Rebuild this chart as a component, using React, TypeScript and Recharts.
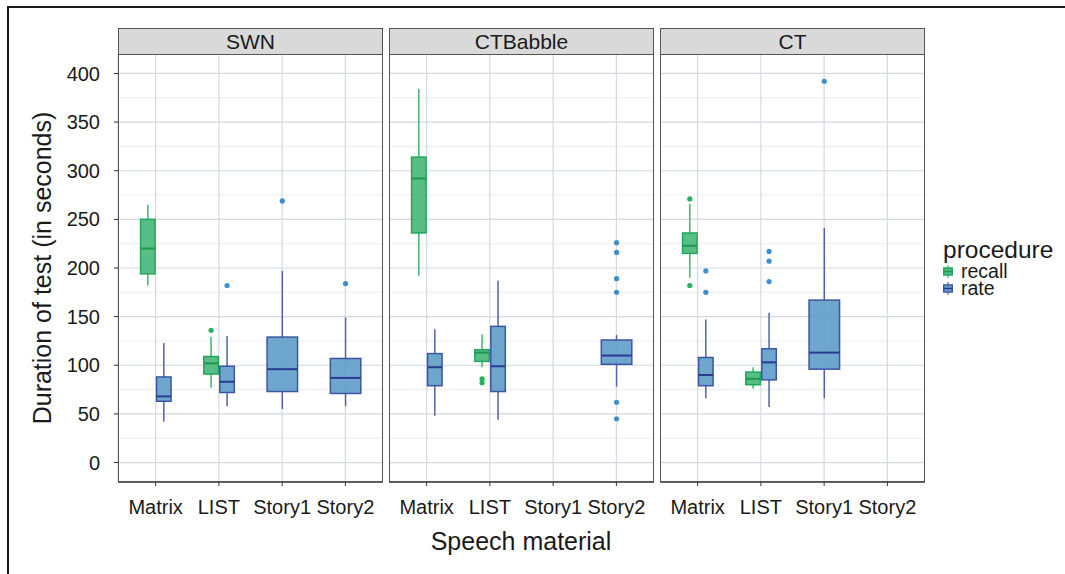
import React from 'react';
import { ComposedChart, Bar, XAxis, YAxis, CartesianGrid } from 'recharts';

const materials = ['Matrix', 'LIST', 'Story1', 'Story2'];
const facets = ['SWN', 'CTBabble', 'CT'];
const yTicks = [0, 50, 100, 150, 200, 250, 300, 350, 400];
const yMinor = [25, 75, 125, 175, 225, 275, 325, 375];

type Stats = number[] | null;

// box stats: [lower whisker, Q1, median, Q3, upper whisker]
const swnRecall: Stats[] = [[182, 194, 220, 250, 265], [77, 91, 102, 109, 129], null, null];
const swnRecallOut: number[][] = [[], [136], [], []];
const swnRate: Stats[] = [[42, 63, 68, 88, 123], [58, 72, 83, 99, 130], [55, 73, 96, 129, 197], [58, 71, 87, 107, 149]];
const swnRateOut: number[][] = [[], [182], [269], [184]];

const babbleRecall: Stats[] = [[192, 236, 292, 314, 384], [98, 104, 113, 116, 132], null, null];
const babbleRecallOut: number[][] = [[], [86, 82], [], []];
const babbleRate: Stats[] = [[48, 79, 98, 112, 137], [44, 73, 99, 140, 187], null, [78, 101, 110, 126, 131]];
const babbleRateOut: number[][] = [[], [], [], [226, 216, 189, 175, 62, 45]];

const ctRecall: Stats[] = [[190, 215, 223, 236, 266], [76, 80, 86, 93, 98], null, null];
const ctRecallOut: number[][] = [[271, 182], [], [], []];
const ctRate: Stats[] = [[66, 79, 90, 108, 147], [57, 85, 103, 117, 154], [66, 96, 113, 167, 241], null];
const ctRateOut: number[][] = [[197, 175], [217, 207, 186], [392], []];

const buildRows = (recall: Stats[], recallOut: number[][], rate: Stats[], rateOut: number[][]) =>
  materials.map((m, i) => ({
    material: m,
    recall: recall[i],
    recallOut: recallOut[i],
    rate: rate[i],
    rateOut: rateOut[i],
  }));

const facetRows = [
  buildRows(swnRecall, swnRecallOut, swnRate, swnRateOut),
  buildRows(babbleRecall, babbleRecallOut, babbleRate, babbleRateOut),
  buildRows(ctRecall, ctRecallOut, ctRate, ctRateOut),
];

const COLORS: Record<string, any> = {
  recall: { fill: '#3cb371', stroke: '#22a65a', median: '#1b9a4f', whisker: '#3cb86e', point: '#27b15e' },
  rate: { fill: '#5596c6', stroke: '#3b57a3', median: '#2a3c8e', whisker: '#5661aa', point: '#3d8fd1' },
};

const FONT = '"Liberation Sans", Arial, sans-serif';

const BoxShape = (props: any) => {
  const { x, y, width, height, payload, proc } = props;
  const s = payload ? payload[proc] : null;
  if (!s || !Number.isFinite(y) || !Number.isFinite(height)) return null;
  const other = proc === 'recall' ? payload.rate : payload.recall;
  const [lo, q1, med, q3, hi] = s;
  const top = Math.min(y, y + height);
  const bot = Math.max(y, y + height);
  const k = (bot - top) / (hi - lo);
  const py = (v: number) => top + (hi - v) * k;
  // a lone group takes the whole dodge width, like ggplot does
  const left = other ? x : proc === 'rate' ? x - width : x;
  const w = other ? width : width * 2;
  const cx = left + w / 2;
  const c = COLORS[proc];
  const outs: number[] = payload[proc + 'Out'] || [];
  return (
    <g>
      <line x1={cx} x2={cx} y1={top} y2={py(q3)} stroke={c.whisker} strokeWidth={1.5} />
      <line x1={cx} x2={cx} y1={py(q1)} y2={bot} stroke={c.whisker} strokeWidth={1.5} />
      <rect
        x={left + 0.75}
        y={py(q3)}
        width={w - 1.5}
        height={py(q1) - py(q3)}
        fill={c.fill}
        fillOpacity={0.85}
        stroke={c.stroke}
        strokeWidth={1.5}
      />
      <line x1={left + 0.75} x2={left + w - 0.75} y1={py(med)} y2={py(med)} stroke={c.median} strokeWidth={2} />
      {outs.map((v, i) => (
        <circle key={i} cx={cx} cy={py(v)} r={2.6} fill={c.point} />
      ))}
    </g>
  );
};

const recallRange = (d: any) => (d.recall ? [d.recall[0], d.recall[4]] : null);
const rateRange = (d: any) => (d.rate ? [d.rate[0], d.rate[4]] : null);

const PLOT_W = 265;
const panelLefts = [118, 389, 660];

const Panel = ({ rows, index }: { rows: any[]; index: number }) => {
  const first = index === 0;
  const yw = first ? 118 : 0;
  return (
    <div style={{ position: 'absolute', left: panelLefts[index] - yw, top: 0 }}>
      <ComposedChart
        width={PLOT_W + yw}
        height={574}
        data={rows}
        margin={{ top: 54, right: 0, bottom: 52, left: 0 }}
        barCategoryGap="25%"
        barGap={0}
      >
        <CartesianGrid horizontalValues={yMinor} vertical={false} stroke="#eceef2" strokeWidth={1} />
        <CartesianGrid horizontalValues={yTicks} stroke="#d3d9e1" strokeWidth={1.2} />
        <XAxis
          dataKey="material"
          type="category"
          padding={{ left: 6, right: 6 }}
          height={40}
          interval={0}
          axisLine={{ stroke: '#333', strokeWidth: 1.5 }}
          tickLine={{ stroke: '#333' }}
          tickSize={4}
          tickMargin={14}
          tick={{ fontSize: 20, fill: '#1a1a1a', fontFamily: FONT }}
        />
        <YAxis
          hide={!first}
          width={yw}
          type="number"
          domain={[-20, 420]}
          allowDataOverflow
          ticks={yTicks}
          interval={0}
          axisLine={false}
          tickLine={{ stroke: '#333' }}
          tickSize={4}
          tickMargin={14}
          tick={{ fontSize: 20, fill: '#1a1a1a', fontFamily: FONT }}
        />
        <Bar dataKey={recallRange} isAnimationActive={false} shape={(p: any) => <BoxShape {...p} proc="recall" />} />
        <Bar dataKey={rateRange} isAnimationActive={false} shape={(p: any) => <BoxShape {...p} proc="rate" />} />
      </ComposedChart>
    </div>
  );
};

const LegendKey = ({ proc }: { proc: string }) => {
  const c = COLORS[proc];
  return (
    <svg width={10} height={13} style={{ display: 'block' }}>
      <line x1={5} x2={5} y1={0} y2={13} stroke={c.whisker} strokeWidth={1.2} />
      <rect x={0.75} y={3} width={8.5} height={7} fill={c.fill} fillOpacity={0.85} stroke={c.stroke} strokeWidth={1.5} />
      <line x1={0.75} x2={9.25} y1={6.5} y2={6.5} stroke={c.median} strokeWidth={1.5} />
    </svg>
  );
};

const App = () => {
  return (
    <div
      style={{
        position: 'absolute',
        left: 0,
        top: 0,
        width: 1065,
        height: 574,
        background: '#fff',
        fontFamily: FONT,
        color: '#1a1a1a',
        overflow: 'hidden',
      }}
    >
      <div
        style={{
          position: 'absolute',
          left: 7,
          top: 6,
          width: 1065,
          height: 580,
          borderTop: '2px solid #1a1a1a',
          borderLeft: '2px solid #1a1a1a',
        }}
      />
      {facetRows.map((rows, i) => (
        <Panel key={facets[i]} rows={rows} index={i} />
      ))}
      {facets.map((f, i) => (
        <div
          key={f}
          style={{
            position: 'absolute',
            left: panelLefts[i],
            top: 28,
            width: PLOT_W,
            height: 454,
            boxSizing: 'border-box',
            border: '1px solid #555',
            pointerEvents: 'none',
          }}
        >
          <div
            style={{
              height: 26,
              boxSizing: 'border-box',
              background: '#d9d9d9',
              borderBottom: '1px solid #555',
              textAlign: 'center',
              fontSize: 21,
              lineHeight: '25px',
            }}
          >
            {f}
          </div>
        </div>
      ))}
      <div
        style={{
          position: 'absolute',
          left: 42,
          top: 268,
          transform: 'translate(-50%, -50%) rotate(-90deg)',
          whiteSpace: 'nowrap',
          fontSize: 25,
        }}
      >
        Duration of test (in seconds)
      </div>
      <div
        style={{
          position: 'absolute',
          left: 521,
          top: 541,
          transform: 'translate(-50%, -50%)',
          whiteSpace: 'nowrap',
          fontSize: 25,
        }}
      >
        Speech material
      </div>
      <div style={{ position: 'absolute', left: 943, top: 237 }}>
        <div style={{ fontSize: 24.5, lineHeight: '26px' }}>procedure</div>
        {['recall', 'rate'].map((p) => (
          <div key={p} style={{ display: 'flex', alignItems: 'center', height: 17 }}>
            <LegendKey proc={p} />
            <span style={{ fontSize: 19.5, marginLeft: 8, lineHeight: '17px' }}>{p}</span>
          </div>
        ))}
      </div>
    </div>
  );
};

export default App;
